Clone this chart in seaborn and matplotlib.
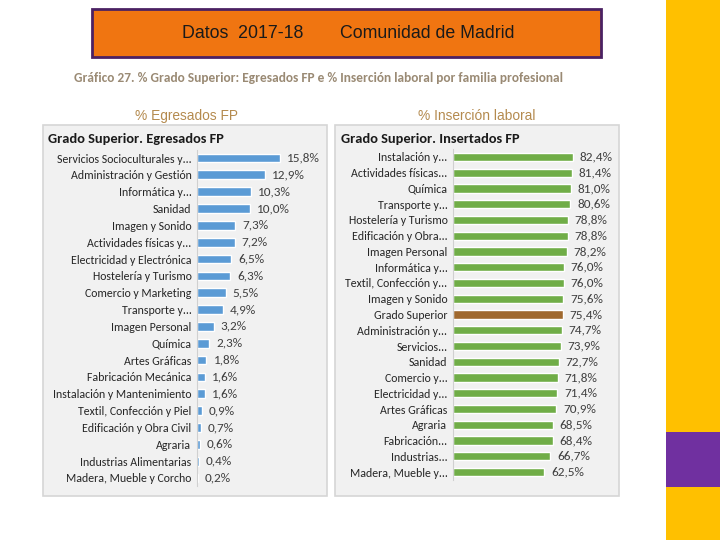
import matplotlib

matplotlib.use("Agg")
import matplotlib.pyplot as plt
from matplotlib.patches import Rectangle
import seaborn as sns

# --- data ---
egresados_labels = [
    "Servicios Socioculturales y...", "Administración y Gestión", "Informática y...",
    "Sanidad", "Imagen y Sonido", "Actividades físicas y...",
    "Electricidad y Electrónica", "Hostelería y Turismo", "Comercio y Marketing",
    "Transporte y...", "Imagen Personal", "Química", "Artes Gráficas",
    "Fabricación Mecánica", "Instalación y Mantenimiento", "Textil, Confección y Piel",
    "Edificación y Obra Civil", "Agraria", "Industrias Alimentarias",
    "Madera, Mueble y Corcho",
]
egresados_values = [15.8, 12.9, 10.3, 10.0, 7.3, 7.2, 6.5, 6.3, 5.5, 4.9,
                    3.2, 2.3, 1.8, 1.6, 1.6, 0.9, 0.7, 0.6, 0.4, 0.2]

insercion_labels = [
    "Instalación y...", "Actividades físicas...", "Química", "Transporte y...",
    "Hostelería y Turismo", "Edificación y Obra...", "Imagen Personal",
    "Informática y...", "Textil, Confección y...", "Imagen y Sonido",
    "Grado Superior", "Administración y...", "Servicios...", "Sanidad",
    "Comercio y...", "Electricidad y...", "Artes Gráficas", "Agraria",
    "Fabricación...", "Industrias...", "Madera, Mueble y...",
]
insercion_values = [82.4, 81.4, 81.0, 80.6, 78.8, 78.8, 78.2, 76.0, 76.0, 75.6,
                    75.4, 74.7, 73.9, 72.7, 71.8, 71.4, 70.9, 68.5, 68.4, 66.7, 62.5]
highlight = "Grado Superior"

W, H = 720, 540

sns.set_theme(style="white")
plt.rcParams["font.family"] = ["Carlito", "DejaVu Sans"]
ARIAL = ["Liberation Sans", "DejaVu Sans"]


def fx(x):
    return x / W


def fy(y):
    return 1 - y / H


def box(x0, y0, x1, y1):
    # figure-fraction rect from pixel corners (top-left origin)
    return [fx(x0), fy(y1), fx(x1) - fx(x0), fy(y0) - fy(y1)]


def add_rect(x0, y0, x1, y1, **kw):
    fig.patches.append(Rectangle((fx(x0), fy(y1)), fx(x1) - fx(x0), fy(y0) - fy(y1),
                                 transform=fig.transFigure, **kw))


fig = plt.figure(figsize=(W / 100, H / 100), dpi=100)
fig.patch.set_facecolor("white")

# side decoration
add_rect(666, 0, 720, 540, facecolor="#ffc000", edgecolor="none", zorder=0)
add_rect(666, 432, 720, 487, facecolor="#7030a0", edgecolor="none", zorder=1)

# orange banner
add_rect(92, 9, 601, 57, facecolor="#f07511", edgecolor="#4b2163", linewidth=2, zorder=1)
fig.text(fx(243), fy(34), "Datos  2017-18", ha="center", va="center", fontsize=12.8,
         color="#1a1a1a", family=ARIAL)
fig.text(fx(427), fy(34), "Comunidad de Madrid", ha="center", va="center", fontsize=12.8,
         color="#1a1a1a", family=ARIAL)

fig.text(fx(318), fy(78),
         "Gráfico 27. % Grado Superior: Egresados FP e % Inserción laboral por familia profesional",
         ha="center", va="center", fontsize=9.65, fontweight="bold", color="#9a8a74")
fig.text(fx(186), fy(116), "% Egresados FP", ha="center", va="center", fontsize=9.9,
         color="#b48a4e", family=ARIAL)
fig.text(fx(477), fy(116), "% Inserción laboral", ha="center", va="center", fontsize=9.9,
         color="#b48a4e", family=ARIAL)

# gray panels
for x0, x1 in [(43, 327), (335, 619)]:
    add_rect(x0, 125, x1, 496, facecolor="#f1f1f1", edgecolor="#d6d6d6",
             linewidth=1.2, zorder=1)
fig.text(fx(48), fy(139), "Grado Superior. Egresados FP", ha="left", va="center",
         fontsize=10.4, fontweight="bold", color="#1a1a1a")
fig.text(fx(341), fy(139), "Grado Superior. Insertados FP", ha="left", va="center",
         fontsize=10.4, fontweight="bold", color="#1a1a1a")


def fmt_pct(v):
    return f"{v:.1f}%".replace(".", ",")


def draw_panel(ax, labels, values, palette, xmax):
    sns.barplot(x=values, y=labels, hue=labels, palette=palette, legend=False,
                orient="h", width=0.52, ax=ax, saturation=1)
    ax.set_xlim(0, xmax)
    ax.set_ylim(len(labels) - 0.5, -0.5)
    ax.set_facecolor("none")
    for side in ["top", "right", "bottom"]:
        ax.spines[side].set_visible(False)
    ax.spines["left"].set_color("#d0d0d0")
    ax.spines["left"].set_linewidth(0.8)
    ax.set_xticks([])
    ax.set_xlabel("")
    ax.set_ylabel("")
    ax.tick_params(axis="y", length=0, pad=4, labelsize=8.6, labelcolor="#262626")
    for cont in ax.containers:
        ax.bar_label(cont, labels=[fmt_pct(v) for v in cont.datavalues], padding=5,
                     fontsize=9.5, color="#404040")


ax1 = fig.add_axes(box(197, 149.6, 327, 486.4))
ax1.set_zorder(2)
draw_panel(ax1, egresados_labels, egresados_values,
           {lab: "#5b9bd5" for lab in egresados_labels}, 130 / 5.25)

ax2 = fig.add_axes(box(453, 149.1, 619, 479.9))
ax2.set_zorder(2)
green = {lab: "#70ad47" for lab in insercion_labels}
green[highlight] = "#a0692f"
draw_panel(ax2, insercion_labels, insercion_values, green, 166 / 1.456)

fig.savefig("out.png", dpi=100)
plt.close(fig)
